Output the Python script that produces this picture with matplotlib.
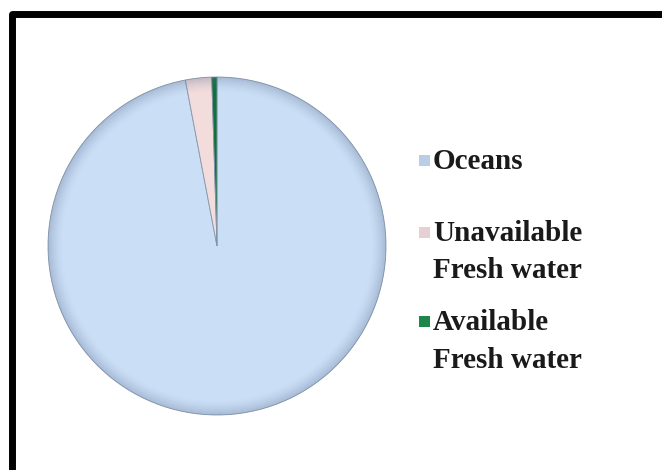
import matplotlib.pyplot as plt
from matplotlib.patches import Rectangle, Wedge

# * - - - Share of the earth's water
labels = ["Oceans", "Unavailable\nFresh water", "Available\nFresh water"]
shares = [97.0, 2.5, 0.5]
colors = ["#cadef6", "#f2dcdc", "#11703e"]
marker_colors = ["#b9cde6", "#e6d0d4", "#1c8748"]

W, H = 662, 470
fig = plt.figure(figsize=(W / 100, H / 100), dpi=100)

# * - - - Pie axes (center and radius in pixels)
cx, cy, r = 217, 246, 169
ax = fig.add_axes([(cx - r) / W, 1 - (cy + r) / H, 2 * r / W, 2 * r / H])

ax.pie(
    shares,
    colors=colors,
    startangle=90,
    counterclock=False,
    radius=1,
    wedgeprops=dict(edgecolor="#8796ab", linewidth=0.6),
)
# pie() resets the limits, so fix them afterwards
ax.set_xlim(-1, 1)
ax.set_ylim(-1, 1)
ax.axis("off")

# * - - - Soft darker rim around the pie
steps = 14
for i in range(steps):
    rr = 1 - i * 0.006
    ax.add_patch(Wedge((0, 0), rr, 0, 360, width=0.006,
                       facecolor="#5c7090", edgecolor="none",
                       alpha=0.32 * (1 - i / steps) ** 1.5))

# * - - - Legend drawn by hand so entries sit at even spacing
font = dict(family="Liberation Serif", weight="bold", size=21, color="#1a1a1a")
text_x = 433
rows_y = [161, 233, 322]
for lab, mc, y in zip(labels, marker_colors, rows_y):
    fig.patches.append(Rectangle(((text_x - 14) / W, 1 - (y + 5) / H), 11 / W, 11 / H,
                                 transform=fig.transFigure, facecolor=mc,
                                 edgecolor="none"))
    fig.text(text_x / W, 1 - (y - 13) / H, lab, ha="left", va="top",
             linespacing=1.5, **font)

# * - - - Black frame (runs past the right and bottom edges)
fig.patches.append(Rectangle((12 / W, -0.2), 1.3, 1 - 14 / H + 0.2,
                             transform=fig.transFigure, fill=False,
                             edgecolor="black", linewidth=5, joinstyle="round"))

fig.savefig("out.png", dpi=100)
